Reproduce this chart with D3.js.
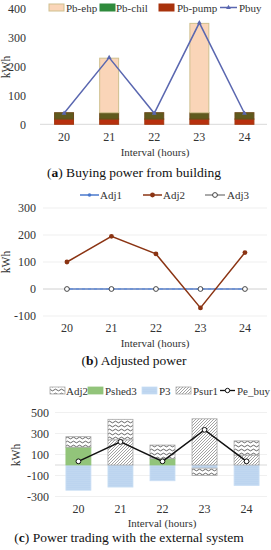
<!DOCTYPE html>
<html><head><meta charset="utf-8">
<script src="https://cdn.jsdelivr.net/npm/d3@7"></script>
<style>
html,body{margin:0;padding:0;background:#fff;}
svg{display:block;}
</style></head>
<body><svg id="c" width="271" height="550"></svg>
<script>
// ---- data ----
const hours = ["20","21","22","23","24"];
// (a) buying power from building
const pbEhp  = [0, 188, 0, 308, 0];
const pbChil = [22, 22, 22, 22, 22];
const pbPump = [18, 18, 18, 18, 18];
const pbuy   = [38, 230, 38, 350, 38];
const ticksA = [0, 100, 200, 300, 400];
// (b) adjusted power
const adj1 = [0, 0, 0, 0, 0];
const adj2 = [100, 195, 130, -70, 135];
const adj3 = [0, 0, 0, 0, 0];
const ticksB = [-100, 0, 100, 200, 300];
// (c) power trading with external system
const pshed3 = [170, 0, 60, 0, 0];
const p3     = [-240, -210, -150, -30, -195];
const psur1  = [0, 240, 0, 440, 95];
const peBuy  = [35, 220, 35, 335, 35];
const ticksC = [-300, -100, 100, 300, 500];

const svg = d3.select("#c");
const defs = svg.append("defs");
// patterns
const pw = defs.append("pattern").attr("id","wave").attr("patternUnits","userSpaceOnUse").attr("width",6).attr("height",4);
pw.append("rect").attr("width",6).attr("height",4).attr("fill","#fff");
pw.append("path").attr("d","M0,2 Q1.5,0.3 3,2 T6,2").attr("fill","none").attr("stroke","#222").attr("stroke-width",0.7);
const pd = defs.append("pattern").attr("id","diag").attr("patternUnits","userSpaceOnUse").attr("width",3).attr("height",3);
pd.append("rect").attr("width",3).attr("height",3).attr("fill","#fff");
pd.append("path").attr("d","M-1,1 L1,-1 M0,3 L3,0 M2,4 L4,2").attr("stroke","#8a8a8a").attr("stroke-width",0.8);
const pdt = defs.append("pattern").attr("id","dots").attr("patternUnits","userSpaceOnUse").attr("width",2).attr("height",2);
pdt.append("rect").attr("width",2).attr("height",2).attr("fill","#c9def4");
pdt.append("circle").attr("cx",1).attr("cy",1).attr("r",0.5).attr("fill","#8fb3df");

const tickFont = 12;
const legFont = 11;
function T(sel){ return sel.style("font-family", "'Liberation Serif'"); }
function yAxisLabels(g, y, ticks, xr){
  T(g.selectAll(null).data(ticks).join("text"))
    .attr("x", xr).attr("y", d=>y(d)).attr("dy","0.35em")
    .attr("text-anchor","end").attr("font-size",tickFont).attr("fill","#333")
    .text(d=>d);
}
function xLabels(g, cx, yy){
  T(g.selectAll(null).data(hours).join("text"))
    .attr("x", d=>cx(d)).attr("y", yy).attr("text-anchor","middle")
    .attr("font-size",tickFont).attr("fill","#333").text(d=>d);
}
function kwh(g, x, y){
  T(g.append("text")).attr("transform",`translate(${x},${y}) rotate(-90)`)
    .attr("text-anchor","middle").attr("font-size",11.5).attr("fill","#333").text("kWh");
}
function caption(g, x, y, letter, rest, fs){
  const t = T(g.append("text")).attr("x",x).attr("y",y).attr("text-anchor","middle").attr("font-size",fs).attr("fill","#111");
  t.append("tspan").text("(");
  t.append("tspan").attr("font-weight","bold").text(letter);
  t.append("tspan").text(") " + rest);
}
function intervalLabel(g, x, y){
  T(g.append("text")).attr("x",x).attr("y",y).attr("text-anchor","middle").attr("font-size",11).attr("fill","#333").text("Interval (hours)");
}

// ================= (a) =================
{
  const g = svg.append("g");
  const x = d3.scaleBand().domain(hours).range([41.5, 267]).paddingInner(0.58).paddingOuter(0.29);
  const y = d3.scaleLinear().domain([0, 400]).range([124.3, 8.3]);
  g.append("line").attr("x1",40).attr("x2",267).attr("y1",y(0)).attr("y2",y(0)).attr("stroke","#d9d9d9");
  yAxisLabels(g, y, ticksA, 26);
  const rows = hours.map((h,i)=>({h, pump:pbPump[i], chil:pbChil[i], ehp:pbEhp[i]}));
  const keys = ["pump","chil","ehp"];
  const fills = {pump:"#b8300e", chil:"#5f5a1e", ehp:"#fad5b8"};
  const strokes = {pump:"#a33a12", chil:"#6b4a1a", ehp:"#cfc08f"};
  const st = d3.stack().keys(keys)(rows);
  st.forEach(s=>{
    g.selectAll(null).data(s.filter(d=>d[1]-d[0]>0)).join("rect")
      .attr("x", d=>x(d.data.h)).attr("width", x.bandwidth())
      .attr("y", d=>y(d[1])).attr("height", d=>y(d[0])-y(d[1]))
      .attr("fill", fills[s.key]).attr("stroke", strokes[s.key]).attr("stroke-width",1);
  });
  const cx = h => x(h) + x.bandwidth()/2;
  const line = d3.line().x((d,i)=>cx(hours[i])).y(d=>y(d));
  g.append("path").attr("d", line(pbuy)).attr("fill","none").attr("stroke","#5a67b0").attr("stroke-width",1.5);
  const tri = d3.symbol().type(d3.symbolTriangle).size(10);
  g.selectAll(null).data(pbuy).join("path").attr("d",tri)
    .attr("transform",(d,i)=>`translate(${cx(hours[i])},${y(d)})`).attr("fill","#5a67b0");
  xLabels(g, cx, 141);
  intervalLabel(g, 155, 156);
  kwh(g, 10, 67);
  caption(g, 134, 177, "a", "Buying power from building", 13.5);
  // legend
  const L = g.append("g");
  const items = [
    {t:"Pb-ehp", sx:49, tx:66, f:fills.ehp, s:strokes.ehp},
    {t:"Pb-chil", sx:100, tx:116, f:"#2f8a3c", s:"#2f8a3c"},
    {t:"Pb-pump", sx:159, tx:177, f:"#a8320c", s:"#a8320c"},
  ];
  items.forEach(it=>{
    L.append("rect").attr("x",it.sx).attr("y",4).attr("width",15).attr("height",7).attr("fill",it.f).attr("stroke",it.s);
    T(L.append("text")).attr("x",it.tx).attr("y",11.5).attr("font-size",legFont).attr("fill","#333").text(it.t);
  });
  L.append("line").attr("x1",220).attr("x2",237).attr("y1",7.5).attr("y2",7.5).attr("stroke","#5a67b0").attr("stroke-width",1.5);
  L.append("path").attr("d",tri).attr("transform","translate(228.5,7.5)").attr("fill","#5a67b0");
  T(L.append("text")).attr("x",239).attr("y",11.5).attr("font-size",legFont).attr("fill","#333").text("Pbuy");
}

// ================= (b) =================
{
  const g = svg.append("g");
  const x = d3.scalePoint().domain(hours).range([44.7, 267.2]).padding(0.5);
  const y = d3.scaleLinear().domain([-100, 300]).range([316, 208]);
  ticksB.forEach(t=>{
    g.append("line").attr("x1",43).attr("x2",267).attr("y1",y(t)).attr("y2",y(t))
      .attr("stroke", t===0 ? "#d0d0d0" : "#efefef");
  });
  yAxisLabels(g, y, ticksB, 36);
  const line = d3.line().x((d,i)=>x(hours[i])).y(d=>y(d));
  g.append("path").attr("d",line(adj1)).attr("fill","none").attr("stroke","#4a78cc").attr("stroke-width",1.5);
  g.append("path").attr("d",line(adj3)).attr("fill","none").attr("stroke","#9aa6c8").attr("stroke-width",1).attr("stroke-dasharray","3,3");
  g.append("path").attr("d",line(adj2)).attr("fill","none").attr("stroke","#8b3413").attr("stroke-width",1.5);
  g.selectAll(null).data(adj1).join("circle").attr("cx",(d,i)=>x(hours[i])).attr("cy",d=>y(d)).attr("r",1.8).attr("fill","#4a78cc");
  g.selectAll(null).data(adj2).join("circle").attr("cx",(d,i)=>x(hours[i])).attr("cy",d=>y(d)).attr("r",2.4).attr("fill","#8b3413");
  g.selectAll(null).data(adj3).join("circle").attr("cx",(d,i)=>x(hours[i])).attr("cy",d=>y(d)).attr("r",2.4).attr("fill","#fff").attr("stroke","#333").attr("stroke-width",0.9);
  xLabels(g, x, 332);
  intervalLabel(g, 155, 347);
  kwh(g, 10, 262);
  caption(g, 134, 365, "b", "Adjusted power", 13.5);
  const L = g.append("g");
  L.append("line").attr("x1",80).attr("x2",99).attr("y1",195).attr("y2",195).attr("stroke","#4a78cc").attr("stroke-width",1.5);
  L.append("circle").attr("cx",89.5).attr("cy",195).attr("r",1.8).attr("fill","#4a78cc");
  T(L.append("text")).attr("x",100).attr("y",199).attr("font-size",legFont).attr("fill","#333").text("Adj1");
  L.append("line").attr("x1",143).attr("x2",162).attr("y1",195).attr("y2",195).attr("stroke","#8b3413").attr("stroke-width",1.5);
  L.append("circle").attr("cx",152.5).attr("cy",195).attr("r",2.4).attr("fill","#8b3413");
  T(L.append("text")).attr("x",163).attr("y",199).attr("font-size",legFont).attr("fill","#333").text("Adj2");
  L.append("line").attr("x1",205).attr("x2",225).attr("y1",195).attr("y2",195).attr("stroke","#555").attr("stroke-width",1);
  L.append("circle").attr("cx",215).attr("cy",195).attr("r",2.4).attr("fill","#fff").attr("stroke","#333").attr("stroke-width",0.9);
  T(L.append("text")).attr("x",227).attr("y",199).attr("font-size",legFont).attr("fill","#333").text("Adj3");
}

// ================= (c) =================
{
  const g = svg.append("g");
  const x = d3.scaleBand().domain(hours).range([57.5, 267.5]).paddingInner(0.405).paddingOuter(0.2);
  const y = d3.scaleLinear().domain([-300, 500]).range([496.5, 412.5]);
  ticksC.forEach(t=>{
    g.append("line").attr("x1",55).attr("x2",267).attr("y1",y(t)).attr("y2",y(t)).attr("stroke","#f0f0f0");
  });
  g.append("line").attr("x1",55).attr("x2",267).attr("y1",y(0)).attr("y2",y(0)).attr("stroke","#d9d9d9");
  yAxisLabels(g, y, ticksC, 49);
  const rows = hours.map((h,i)=>({h, P3:p3[i], Pshed3:pshed3[i], Psur1:psur1[i], Adj2:adj2[i]}));
  const keys = ["P3","Pshed3","Psur1","Adj2"];
  const fills = {P3:"url(#dots)", Pshed3:"#92c47a", Psur1:"url(#diag)", Adj2:"url(#wave)"};
  const strokes = {P3:"#c9def4", Pshed3:"#92c47a", Psur1:"#a6a6a6", Adj2:"#a6a6a6"};
  const st = d3.stack().keys(keys).offset(d3.stackOffsetDiverging)(rows);
  st.forEach(s=>{
    g.selectAll(null).data(s.filter(d=>Math.abs(d[1]-d[0])>0)).join("rect")
      .attr("x", d=>x(d.data.h)).attr("width", x.bandwidth())
      .attr("y", d=>y(Math.max(d[0],d[1]))).attr("height", d=>Math.abs(y(d[0])-y(d[1])))
      .attr("fill", fills[s.key]).attr("stroke", strokes[s.key]).attr("stroke-width",0.8);
  });
  const cx = h => x(h) + x.bandwidth()/2;
  const line = d3.line().x((d,i)=>cx(hours[i])).y(d=>y(d));
  g.append("path").attr("d", line(peBuy)).attr("fill","none").attr("stroke","#111").attr("stroke-width",1.5);
  g.selectAll(null).data(peBuy).join("circle").attr("cx",(d,i)=>cx(hours[i])).attr("cy",d=>y(d)).attr("r",2.4)
    .attr("fill","#fff").attr("stroke","#111").attr("stroke-width",1);
  xLabels(g, cx, 513);
  intervalLabel(g, 162, 527);
  kwh(g, 20, 455);
  caption(g, 129, 542, "c", "Power trading with the external system", 13.5);
  const L = g.append("g");
  const items = [
    {t:"Adj2", sx:50, tx:66, f:fills.Adj2, s:strokes.Adj2},
    {t:"Pshed3", sx:88, tx:105, f:fills.Pshed3, s:strokes.Pshed3},
    {t:"P3", sx:142, tx:159, f:fills.P3, s:strokes.P3},
    {t:"Psur1", sx:176, tx:193, f:fills.Psur1, s:strokes.Psur1},
  ];
  items.forEach(it=>{
    L.append("rect").attr("x",it.sx).attr("y",387).attr("width",15).attr("height",7).attr("fill",it.f).attr("stroke",it.s).attr("stroke-width",0.8);
    T(L.append("text")).attr("x",it.tx).attr("y",394.5).attr("font-size",legFont).attr("fill","#333").text(it.t);
  });
  L.append("line").attr("x1",220).attr("x2",235).attr("y1",390.5).attr("y2",390.5).attr("stroke","#111").attr("stroke-width",1.3);
  L.append("circle").attr("cx",227.5).attr("cy",390.5).attr("r",2.2).attr("fill","#fff").attr("stroke","#111");
  T(L.append("text")).attr("x",237).attr("y",394.5).attr("font-size",legFont).attr("fill","#333").text("Pe_buy");
}
</script></body></html>
